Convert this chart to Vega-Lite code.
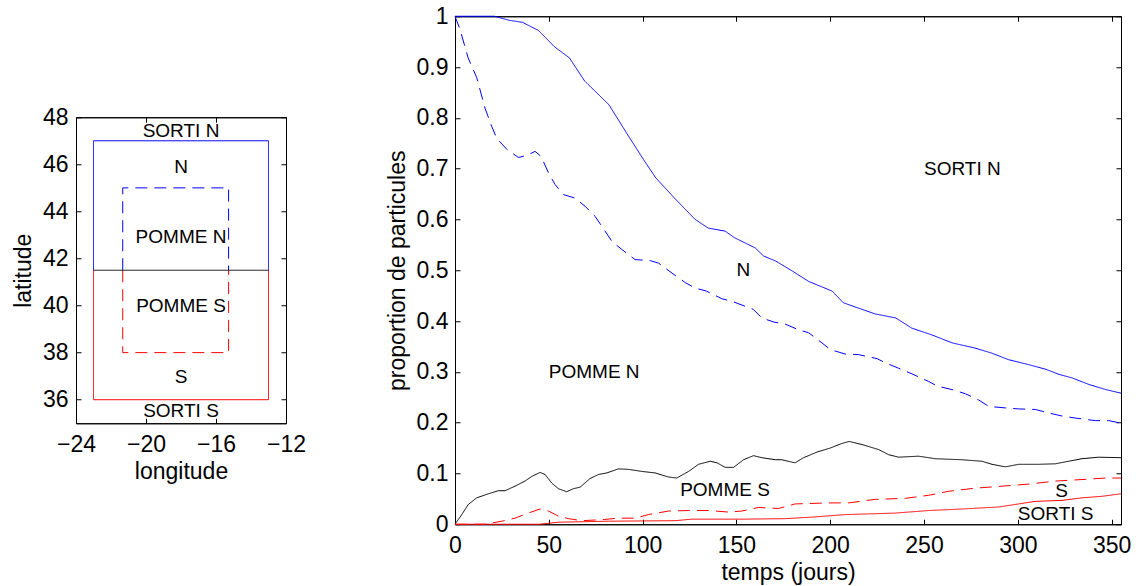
{
  "$schema": "https://vega.github.io/schema/vega-lite/v6.json",
  "padding": {"left": 11, "top": 4, "right": 0, "bottom": 0},
  "background": "white",
  "spacing": 78,
  "center": true,
  "datasets": {
    "carte": [
      {"zone": "N", "i": 0, "lon": -23, "lat": 41.5},
      {"zone": "N", "i": 1, "lon": -23, "lat": 47},
      {"zone": "N", "i": 2, "lon": -13, "lat": 47},
      {"zone": "N", "i": 3, "lon": -13, "lat": 41.5},
      {"zone": "S", "i": 0, "lon": -23, "lat": 41.5},
      {"zone": "S", "i": 1, "lon": -23, "lat": 36},
      {"zone": "S", "i": 2, "lon": -13, "lat": 36},
      {"zone": "S", "i": 3, "lon": -13, "lat": 41.5},
      {"zone": "POMME N", "i": 0, "lon": -21.33, "lat": 41.5},
      {"zone": "POMME N", "i": 1, "lon": -21.33, "lat": 45},
      {"zone": "POMME N", "i": 2, "lon": -15.28, "lat": 45},
      {"zone": "POMME N", "i": 3, "lon": -15.28, "lat": 41.5},
      {"zone": "POMME S", "i": 0, "lon": -21.33, "lat": 41.5},
      {"zone": "POMME S", "i": 1, "lon": -21.33, "lat": 38},
      {"zone": "POMME S", "i": 2, "lon": -15.28, "lat": 38},
      {"zone": "POMME S", "i": 3, "lon": -15.28, "lat": 41.5},
      {"zone": "limite", "i": 0, "lon": -23, "lat": 41.5},
      {"zone": "limite", "i": 1, "lon": -13, "lat": 41.5}
    ],
    "etiquettes_carte": [
      {"lon": -18, "lat": 47.4, "label": "SORTI N"},
      {"lon": -18, "lat": 45.9, "label": "N"},
      {"lon": -18, "lat": 42.9, "label": "POMME N"},
      {"lon": -18, "lat": 40.0, "label": "POMME S"},
      {"lon": -18, "lat": 36.95, "label": "S"},
      {"lon": -18, "lat": 35.5, "label": "SORTI S"}
    ],
    "courbes": [
      {"zone": "N", "t": 0, "p": 1}, {"zone": "N", "t": 10, "p": 1}, {"zone": "N", "t": 21, "p": 1},
      {"zone": "N", "t": 29, "p": 0.992}, {"zone": "N", "t": 36, "p": 0.988}, {"zone": "N", "t": 44.5, "p": 0.972},
      {"zone": "N", "t": 53, "p": 0.94}, {"zone": "N", "t": 61, "p": 0.918}, {"zone": "N", "t": 69, "p": 0.873},
      {"zone": "N", "t": 82, "p": 0.826}, {"zone": "N", "t": 92.5, "p": 0.764}, {"zone": "N", "t": 101, "p": 0.715},
      {"zone": "N", "t": 107, "p": 0.682}, {"zone": "N", "t": 117, "p": 0.642}, {"zone": "N", "t": 128, "p": 0.6},
      {"zone": "N", "t": 135, "p": 0.583}, {"zone": "N", "t": 144, "p": 0.577}, {"zone": "N", "t": 149, "p": 0.564},
      {"zone": "N", "t": 160, "p": 0.544}, {"zone": "N", "t": 164.5, "p": 0.528}, {"zone": "N", "t": 171, "p": 0.518},
      {"zone": "N", "t": 180, "p": 0.498}, {"zone": "N", "t": 188.5, "p": 0.478}, {"zone": "N", "t": 201, "p": 0.459},
      {"zone": "N", "t": 207, "p": 0.436}, {"zone": "N", "t": 217, "p": 0.423}, {"zone": "N", "t": 224, "p": 0.414},
      {"zone": "N", "t": 235, "p": 0.406}, {"zone": "N", "t": 243.5, "p": 0.386}, {"zone": "N", "t": 254, "p": 0.373},
      {"zone": "N", "t": 265, "p": 0.357}, {"zone": "N", "t": 277, "p": 0.347}, {"zone": "N", "t": 286, "p": 0.337},
      {"zone": "N", "t": 295, "p": 0.324}, {"zone": "N", "t": 306, "p": 0.314}, {"zone": "N", "t": 315, "p": 0.305},
      {"zone": "N", "t": 322, "p": 0.295}, {"zone": "N", "t": 329, "p": 0.288}, {"zone": "N", "t": 338, "p": 0.275},
      {"zone": "N", "t": 347, "p": 0.265}, {"zone": "N", "t": 355, "p": 0.258},

      {"zone": "POMME N", "t": 0, "p": 1}, {"zone": "POMME N", "t": 2.7, "p": 0.974}, {"zone": "POMME N", "t": 7, "p": 0.918},
      {"zone": "POMME N", "t": 11.6, "p": 0.879}, {"zone": "POMME N", "t": 16, "p": 0.819}, {"zone": "POMME N", "t": 19.6, "p": 0.783},
      {"zone": "POMME N", "t": 22.2, "p": 0.76}, {"zone": "POMME N", "t": 27.6, "p": 0.738}, {"zone": "POMME N", "t": 33.8, "p": 0.722},
      {"zone": "POMME N", "t": 38.2, "p": 0.726}, {"zone": "POMME N", "t": 42.7, "p": 0.734}, {"zone": "POMME N", "t": 45.9, "p": 0.724},
      {"zone": "POMME N", "t": 49.8, "p": 0.692}, {"zone": "POMME N", "t": 53.3, "p": 0.669}, {"zone": "POMME N", "t": 57.8, "p": 0.649},
      {"zone": "POMME N", "t": 64, "p": 0.642}, {"zone": "POMME N", "t": 69.3, "p": 0.626}, {"zone": "POMME N", "t": 74.7, "p": 0.606},
      {"zone": "POMME N", "t": 80, "p": 0.577}, {"zone": "POMME N", "t": 83.6, "p": 0.557}, {"zone": "POMME N", "t": 88.9, "p": 0.541},
      {"zone": "POMME N", "t": 96, "p": 0.521}, {"zone": "POMME N", "t": 104, "p": 0.519}, {"zone": "POMME N", "t": 108.5, "p": 0.514},
      {"zone": "POMME N", "t": 117.3, "p": 0.49}, {"zone": "POMME N", "t": 123, "p": 0.475}, {"zone": "POMME N", "t": 128, "p": 0.465},
      {"zone": "POMME N", "t": 134, "p": 0.459}, {"zone": "POMME N", "t": 142.2, "p": 0.444}, {"zone": "POMME N", "t": 147.6, "p": 0.439},
      {"zone": "POMME N", "t": 159, "p": 0.423}, {"zone": "POMME N", "t": 163.6, "p": 0.406}, {"zone": "POMME N", "t": 170, "p": 0.398},
      {"zone": "POMME N", "t": 176, "p": 0.394}, {"zone": "POMME N", "t": 183, "p": 0.383}, {"zone": "POMME N", "t": 188.5, "p": 0.377},
      {"zone": "POMME N", "t": 195.6, "p": 0.357}, {"zone": "POMME N", "t": 200, "p": 0.344}, {"zone": "POMME N", "t": 208, "p": 0.335},
      {"zone": "POMME N", "t": 215, "p": 0.334}, {"zone": "POMME N", "t": 225, "p": 0.326}, {"zone": "POMME N", "t": 229.3, "p": 0.318},
      {"zone": "POMME N", "t": 236.5, "p": 0.307}, {"zone": "POMME N", "t": 243.6, "p": 0.296}, {"zone": "POMME N", "t": 252.5, "p": 0.281},
      {"zone": "POMME N", "t": 257, "p": 0.272}, {"zone": "POMME N", "t": 265, "p": 0.265}, {"zone": "POMME N", "t": 272, "p": 0.257},
      {"zone": "POMME N", "t": 279, "p": 0.245}, {"zone": "POMME N", "t": 284.5, "p": 0.232}, {"zone": "POMME N", "t": 293.3, "p": 0.229},
      {"zone": "POMME N", "t": 300.5, "p": 0.227}, {"zone": "POMME N", "t": 309.3, "p": 0.226}, {"zone": "POMME N", "t": 316.5, "p": 0.219},
      {"zone": "POMME N", "t": 323.6, "p": 0.213}, {"zone": "POMME N", "t": 330.7, "p": 0.209}, {"zone": "POMME N", "t": 341.3, "p": 0.204},
      {"zone": "POMME N", "t": 348.5, "p": 0.204}, {"zone": "POMME N", "t": 355, "p": 0.199},

      {"zone": "limite", "t": 0, "p": 0}, {"zone": "limite", "t": 3.6, "p": 0.019}, {"zone": "limite", "t": 7.1, "p": 0.039},
      {"zone": "limite", "t": 11.6, "p": 0.052}, {"zone": "limite", "t": 17.8, "p": 0.06}, {"zone": "limite", "t": 23.1, "p": 0.066},
      {"zone": "limite", "t": 26.7, "p": 0.066}, {"zone": "limite", "t": 32, "p": 0.075}, {"zone": "limite", "t": 37.3, "p": 0.085},
      {"zone": "limite", "t": 40.9, "p": 0.094}, {"zone": "limite", "t": 45.3, "p": 0.102}, {"zone": "limite", "t": 48, "p": 0.098},
      {"zone": "limite", "t": 51.6, "p": 0.081}, {"zone": "limite", "t": 55.1, "p": 0.07}, {"zone": "limite", "t": 59.6, "p": 0.064},
      {"zone": "limite", "t": 63.1, "p": 0.07}, {"zone": "limite", "t": 66.7, "p": 0.073}, {"zone": "limite", "t": 72, "p": 0.09},
      {"zone": "limite", "t": 76.5, "p": 0.098}, {"zone": "limite", "t": 80.9, "p": 0.101}, {"zone": "limite", "t": 87.1, "p": 0.109},
      {"zone": "limite", "t": 92.5, "p": 0.108}, {"zone": "limite", "t": 99.6, "p": 0.104}, {"zone": "limite", "t": 106.7, "p": 0.101},
      {"zone": "limite", "t": 113.8, "p": 0.093}, {"zone": "limite", "t": 118.2, "p": 0.091}, {"zone": "limite", "t": 124.5, "p": 0.104},
      {"zone": "limite", "t": 129.8, "p": 0.118}, {"zone": "limite", "t": 136, "p": 0.124}, {"zone": "limite", "t": 139.6, "p": 0.121},
      {"zone": "limite", "t": 144, "p": 0.112}, {"zone": "limite", "t": 148.5, "p": 0.112}, {"zone": "limite", "t": 153.8, "p": 0.127},
      {"zone": "limite", "t": 159.1, "p": 0.135}, {"zone": "limite", "t": 163.6, "p": 0.131}, {"zone": "limite", "t": 170.7, "p": 0.127},
      {"zone": "limite", "t": 174.2, "p": 0.127}, {"zone": "limite", "t": 178.7, "p": 0.123}, {"zone": "limite", "t": 181.3, "p": 0.121},
      {"zone": "limite", "t": 185.8, "p": 0.131}, {"zone": "limite", "t": 192.9, "p": 0.142}, {"zone": "limite", "t": 200, "p": 0.15},
      {"zone": "limite", "t": 206.2, "p": 0.159}, {"zone": "limite", "t": 210.1, "p": 0.163}, {"zone": "limite", "t": 216.9, "p": 0.157},
      {"zone": "limite", "t": 225.8, "p": 0.147}, {"zone": "limite", "t": 231.1, "p": 0.137}, {"zone": "limite", "t": 236.5, "p": 0.132},
      {"zone": "limite", "t": 247.1, "p": 0.134}, {"zone": "limite", "t": 256, "p": 0.129}, {"zone": "limite", "t": 270.2, "p": 0.127},
      {"zone": "limite", "t": 280.9, "p": 0.124}, {"zone": "limite", "t": 286.2, "p": 0.118}, {"zone": "limite", "t": 293.3, "p": 0.113},
      {"zone": "limite", "t": 300.5, "p": 0.118}, {"zone": "limite", "t": 311.1, "p": 0.118}, {"zone": "limite", "t": 320, "p": 0.119},
      {"zone": "limite", "t": 327.1, "p": 0.124}, {"zone": "limite", "t": 334.2, "p": 0.129}, {"zone": "limite", "t": 343.1, "p": 0.132},
      {"zone": "limite", "t": 355, "p": 0.131},

      {"zone": "POMME S", "t": 0, "p": 0}, {"zone": "POMME S", "t": 16, "p": 0}, {"zone": "POMME S", "t": 24.9, "p": 0.006},
      {"zone": "POMME S", "t": 32, "p": 0.012}, {"zone": "POMME S", "t": 39.1, "p": 0.022}, {"zone": "POMME S", "t": 45.3, "p": 0.03},
      {"zone": "POMME S", "t": 49.8, "p": 0.026}, {"zone": "POMME S", "t": 55.1, "p": 0.016}, {"zone": "POMME S", "t": 60.5, "p": 0.011},
      {"zone": "POMME S", "t": 67.6, "p": 0.007}, {"zone": "POMME S", "t": 78.2, "p": 0.009}, {"zone": "POMME S", "t": 87.1, "p": 0.012},
      {"zone": "POMME S", "t": 96, "p": 0.012}, {"zone": "POMME S", "t": 103.1, "p": 0.019}, {"zone": "POMME S", "t": 113.8, "p": 0.026},
      {"zone": "POMME S", "t": 124.5, "p": 0.027}, {"zone": "POMME S", "t": 135.1, "p": 0.027}, {"zone": "POMME S", "t": 145.8, "p": 0.024},
      {"zone": "POMME S", "t": 152.9, "p": 0.026}, {"zone": "POMME S", "t": 161.8, "p": 0.033}, {"zone": "POMME S", "t": 172.4, "p": 0.031},
      {"zone": "POMME S", "t": 181.3, "p": 0.04}, {"zone": "POMME S", "t": 199.1, "p": 0.042}, {"zone": "POMME S", "t": 209.8, "p": 0.042},
      {"zone": "POMME S", "t": 224, "p": 0.049}, {"zone": "POMME S", "t": 240, "p": 0.051}, {"zone": "POMME S", "t": 252.5, "p": 0.057},
      {"zone": "POMME S", "t": 263.2, "p": 0.065}, {"zone": "POMME S", "t": 277.3, "p": 0.071}, {"zone": "POMME S", "t": 291.6, "p": 0.075},
      {"zone": "POMME S", "t": 305.8, "p": 0.079}, {"zone": "POMME S", "t": 320, "p": 0.085}, {"zone": "POMME S", "t": 334.2, "p": 0.088},
      {"zone": "POMME S", "t": 346.7, "p": 0.091}, {"zone": "POMME S", "t": 355, "p": 0.091},

      {"zone": "S", "t": 0, "p": 0}, {"zone": "S", "t": 45, "p": 0}, {"zone": "S", "t": 55, "p": 0.004},
      {"zone": "S", "t": 81.8, "p": 0.006}, {"zone": "S", "t": 117.3, "p": 0.007}, {"zone": "S", "t": 126.2, "p": 0.01},
      {"zone": "S", "t": 152.9, "p": 0.01}, {"zone": "S", "t": 176, "p": 0.011}, {"zone": "S", "t": 190.2, "p": 0.014},
      {"zone": "S", "t": 208, "p": 0.019}, {"zone": "S", "t": 234.7, "p": 0.022}, {"zone": "S", "t": 252.5, "p": 0.027},
      {"zone": "S", "t": 270.2, "p": 0.03}, {"zone": "S", "t": 289.8, "p": 0.034}, {"zone": "S", "t": 298.7, "p": 0.039},
      {"zone": "S", "t": 309.3, "p": 0.045}, {"zone": "S", "t": 323.6, "p": 0.047}, {"zone": "S", "t": 334.2, "p": 0.052},
      {"zone": "S", "t": 344.9, "p": 0.055}, {"zone": "S", "t": 355, "p": 0.06}
    ],
    "etiquettes_courbes": [
      {"t": 250, "p": 0.7, "label": "SORTI N"},
      {"t": 150, "p": 0.5, "label": "N"},
      {"t": 50, "p": 0.3, "label": "POMME N"},
      {"t": 120, "p": 0.068, "label": "POMME S"},
      {"t": 320, "p": 0.066, "label": "S"},
      {"t": 300, "p": 0.02, "label": "SORTI S"}
    ]
  },
  "hconcat": [
    {
      "width": 210,
      "height": 306,
      "layer": [
        {
          "data": {"name": "carte"},
          "mark": {"type": "line", "strokeWidth": 1},
          "encoding": {
            "x": {"field": "lon", "type": "quantitative", "scale": {"domain": [-24, -12], "nice": false, "zero": false},
                  "axis": {"orient": "bottom", "values": [-24, -20, -16, -12], "format": "~r", "title": "longitude"}},
            "y": {"field": "lat", "type": "quantitative", "scale": {"domain": [35, 48], "nice": false, "zero": false},
                  "axis": {"orient": "left", "values": [36, 38, 40, 42, 44, 46, 48], "format": "~r", "title": "latitude"}},
            "color": {"field": "zone", "type": "nominal", "legend": null,
                      "scale": {"domain": ["N", "POMME N", "limite", "POMME S", "S"], "range": ["#0000ff", "#0000ff", "#000000", "#ff0000", "#ff0000"]}},
            "strokeDash": {"field": "zone", "type": "nominal", "legend": null,
                      "scale": {"domain": ["N", "POMME N", "limite", "POMME S", "S"], "range": [[1, 0], [12, 7], [1, 0], [12, 7], [1, 0]]}},
            "order": {"field": "i", "type": "quantitative"}
          }
        },
        {
          "data": {"name": "etiquettes_carte"},
          "mark": {"type": "text", "align": "center", "baseline": "middle", "fontSize": 19, "font": "Liberation Sans", "color": "black"},
          "encoding": {
            "x": {"field": "lon", "type": "quantitative", "scale": {"domain": [-24, -12], "nice": false, "zero": false},
                  "axis": {"orient": "top", "values": [-24, -20, -16, -12], "labels": false, "title": null}},
            "y": {"field": "lat", "type": "quantitative", "scale": {"domain": [35, 48], "nice": false, "zero": false},
                  "axis": {"orient": "right", "values": [36, 38, 40, 42, 44, 46, 48], "labels": false, "title": null}},
            "text": {"field": "label"}
          }
        }
      ],
      "resolve": {"axis": {"x": "independent", "y": "independent"}}
    },
    {
      "width": 666,
      "height": 508,
      "layer": [
        {
          "data": {"name": "courbes"},
          "mark": {"type": "line", "strokeWidth": 1},
          "encoding": {
            "x": {"field": "t", "type": "quantitative", "scale": {"domain": [0, 355], "nice": false, "zero": false},
                  "axis": {"orient": "bottom", "values": [0, 50, 100, 150, 200, 250, 300, 350], "format": "~r", "title": "temps (jours)"}},
            "y": {"field": "p", "type": "quantitative", "scale": {"domain": [0, 1], "nice": false, "zero": false},
                  "axis": {"orient": "left", "values": [0, 0.1, 0.2, 0.3, 0.4, 0.5, 0.6, 0.7, 0.8, 0.9, 1], "format": "~r", "title": "proportion de particules", "labelPadding": 12}},
            "color": {"field": "zone", "type": "nominal", "legend": null,
                      "scale": {"domain": ["N", "POMME N", "limite", "POMME S", "S"], "range": ["#0000ff", "#0000ff", "#000000", "#ff0000", "#ff0000"]}},
            "strokeDash": {"field": "zone", "type": "nominal", "legend": null,
                      "scale": {"domain": ["N", "POMME N", "limite", "POMME S", "S"], "range": [[1, 0], [10, 6], [1, 0], [10, 6], [1, 0]]}}
          }
        },
        {
          "data": {"name": "etiquettes_courbes"},
          "mark": {"type": "text", "align": "left", "baseline": "middle", "fontSize": 19, "font": "Liberation Sans", "color": "black"},
          "encoding": {
            "x": {"field": "t", "type": "quantitative", "scale": {"domain": [0, 355], "nice": false, "zero": false},
                  "axis": {"orient": "top", "values": [0, 50, 100, 150, 200, 250, 300, 350], "labels": false, "title": null}},
            "y": {"field": "p", "type": "quantitative", "scale": {"domain": [0, 1], "nice": false, "zero": false},
                  "axis": {"orient": "right", "values": [0, 0.1, 0.2, 0.3, 0.4, 0.5, 0.6, 0.7, 0.8, 0.9, 1], "labels": false, "title": null}},
            "text": {"field": "label"}
          }
        }
      ],
      "resolve": {"axis": {"x": "independent", "y": "independent"}}
    }
  ],
  "config": {
    "font": "Liberation Sans",
    "view": {"stroke": "black", "strokeWidth": 1},
    "title": {"font": "Liberation Sans", "color": "black"},
    "axis": {
      "labelFont": "Liberation Sans",
      "titleFont": "Liberation Sans",
      "labelFontSize": 23,
      "titleFontSize": 23,
      "titleFontWeight": "normal",
      "labelColor": "black",
      "titleColor": "black",
      "domainColor": "black",
      "domainWidth": 1,
      "tickColor": "black",
      "tickWidth": 1,
      "tickSize": -5,
      "grid": false,
      "labelFlush": false,
      "labelOverlap": false,
      "labelBound": false
    },
    "axisBottom": {"labelPadding": 15, "titlePadding": 4},
    "axisLeft": {"labelPadding": 13, "titlePadding": 7}
  }
}
